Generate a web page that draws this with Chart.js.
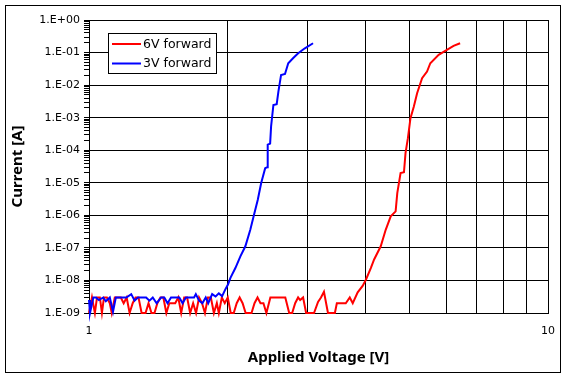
<!DOCTYPE html>
<html>
<head>
<meta charset="utf-8">
<script src="https://cdn.jsdelivr.net/npm/chart.js@4.4.1/dist/chart.umd.min.js"></script>
<style>
  html, body { margin: 0; padding: 0; background: #fff; }
  #wrap { width: 567px; height: 379px; }
</style>
</head>
<body>
<div id="wrap"><canvas id="ivChart" width="567" height="379"></canvas></div>
<script>
// Axis ticks
const yDecades = [1e-9, 1e-8, 1e-7, 1e-6, 1e-5, 1e-4, 1e-3, 1e-2, 1e-1, 1e0];
const yTickLabels = ['1.E-09', '1.E-08', '1.E-07', '1.E-06', '1.E-05', '1.E-04', '1.E-03', '1.E-02', '1.E-01', '1.E+00'];
const minorSteps = [2, 3, 4, 5, 6, 7, 8, 9];
const xGridValues = [1, 2, 3, 4, 5, 6, 7, 8, 9, 10];
const xLabelValues = [1, 10];
const xTickLabels = ['1', '10'];

// 6V forward sweep
const redV = [
    1.000, 1.015, 1.030, 1.041, 1.056, 1.067, 1.078, 1.094, 1.110, 1.121,
    1.138, 1.155, 1.173, 1.190, 1.208, 1.226, 1.245, 1.263, 1.282, 1.302,
    1.328, 1.348, 1.368, 1.389, 1.409, 1.431, 1.452, 1.474, 1.496, 1.519,
    1.541, 1.565, 1.588, 1.612, 1.636, 1.661, 1.686, 1.711, 1.737, 1.763,
    1.789, 1.816, 1.843, 1.871, 1.899, 1.918, 1.947, 1.976, 2.006, 2.036,
    2.067, 2.098, 2.129, 2.161, 2.194, 2.227, 2.260, 2.294, 2.329, 2.364,
    2.399, 2.435, 2.484, 2.534, 2.585, 2.637, 2.677, 2.730, 2.771, 2.813,
    2.855, 2.884, 2.927, 2.972, 3.031, 3.092, 3.155, 3.202, 3.250, 3.316,
    3.382, 3.433, 3.467, 3.555, 3.626, 3.699, 3.755, 3.849, 3.946, 4.011,
    4.111, 4.180, 4.321, 4.430, 4.543, 4.656, 4.695, 4.773, 4.855, 4.893,
    4.952, 5.016, 5.102, 5.186, 5.317, 5.451, 5.541, 5.778, 6.022, 6.226,
    6.434
];
const redI = [
    1e-9, 3e-9, 1e-9, 3e-9, 3e-9, 1e-9, 3e-9, 3e-9, 2e-9, 1e-9,
    3e-9, 3e-9, 3e-9, 2e-9, 3e-9, 1e-9, 2e-9, 3e-9, 3e-9, 1e-9,
    1e-9, 2e-9, 1e-9, 1e-9, 2e-9, 3e-9, 3e-9, 1e-9, 2e-9, 2e-9,
    2e-9, 3e-9, 1e-9, 3e-9, 3e-9, 1e-9, 2e-9, 1e-9, 3e-9, 2e-9,
    1e-9, 3e-9, 3e-9, 1e-9, 2e-9, 1e-9, 3e-9, 2e-9, 3e-9, 1e-9,
    1e-9, 2e-9, 3e-9, 2e-9, 1e-9, 1e-9, 1e-9, 2e-9, 3e-9, 2e-9,
    2e-9, 1e-9, 3e-9, 3e-9, 3e-9, 3e-9, 3e-9, 1e-9, 1e-9, 2e-9,
    3e-9, 2.5e-9, 3e-9, 1e-9, 1e-9, 1e-9, 2.2e-9, 3e-9, 4.5e-9, 1e-9,
    1e-9, 1e-9, 2e-9, 2e-9, 2e-9, 3e-9, 2e-9, 4.3e-9, 6.8e-9, 1.05e-8,
    2.4e-8, 4.4e-8, 1.12e-7, 3.6e-7, 9.3e-7, 1.32e-6, 4.8e-6, 2.0e-5, 2.1e-5, 8.1e-5,
    2.35e-4, 9.6e-4, 2.2e-3, 5.6e-3, 1.63e-2, 2.6e-2, 4.7e-2, 8.5e-2, 1.2e-1, 1.6e-1,
    1.93e-1
];

// 3V forward sweep
const blueV = [
    1.000, 1.005, 1.022, 1.035, 1.051, 1.074, 1.088, 1.110, 1.128, 1.144,
    1.172, 1.206, 1.236, 1.257, 1.278, 1.302, 1.332, 1.354, 1.377, 1.404,
    1.436, 1.459, 1.483, 1.509, 1.541, 1.573, 1.599, 1.626, 1.661, 1.694,
    1.709, 1.737, 1.766, 1.796, 1.819, 1.855, 1.887, 1.918, 1.950, 1.984,
    2.008, 2.033, 2.084, 2.137, 2.191, 2.246, 2.284, 2.332, 2.372, 2.420,
    2.444, 2.451, 2.481, 2.493, 2.522, 2.564, 2.586, 2.621, 2.673, 2.717,
    2.786, 2.856, 2.953, 3.077
];
const blueI = [
    2.5e-9, 1.0e-9, 3e-9, 3e-9, 2.5e-9, 3e-9, 2.3e-9, 3e-9, 1.1e-9, 3e-9,
    3e-9, 3e-9, 3.8e-9, 2.4e-9, 3e-9, 3e-9, 3e-9, 2.4e-9, 3e-9, 2e-9,
    3e-9, 3e-9, 2e-9, 3e-9, 3e-9, 3e-9, 2e-9, 3e-9, 3e-9, 3e-9,
    3.8e-9, 2.4e-9, 2e-9, 3e-9, 2e-9, 3.8e-9, 3.2e-9, 4e-9, 3.3e-9, 5.5e-9,
    7.5e-9, 1.2e-8, 2.4e-8, 5.5e-8, 1.12e-7, 3.6e-7, 9.3e-7, 3.0e-6, 9.8e-6, 2.8e-5,
    3.0e-5, 1.48e-4, 1.6e-4, 5.4e-4, 2.45e-3, 2.6e-3, 6.3e-3, 2.05e-2, 2.2e-2, 4.7e-2,
    6.8e-2, 9.5e-2, 1.35e-1, 1.93e-1
];

const toPoints = (xs, ys) => xs.map((x, i) => ({ x, y: ys[i] }));

// Boxed legend inside the plot, like the spreadsheet original
const boxLegend = {
    id: 'boxLegend',
    afterDraw(chart) {
        const { ctx } = chart;
        ctx.save();
        ctx.fillStyle = '#fff';
        ctx.fillRect(108.5, 33.5, 108, 40);
        ctx.strokeStyle = '#000';
        ctx.lineWidth = 1;
        ctx.strokeRect(108.5, 33.5, 108, 40);
        ctx.font = '12.5px "DejaVu Sans"';
        ctx.textBaseline = 'middle';
        chart.data.datasets.forEach((ds, i) => {
            const y = 44 + i * 19.5;
            ctx.strokeStyle = ds.borderColor;
            ctx.lineWidth = 2;
            ctx.beginPath();
            ctx.moveTo(112, y);
            ctx.lineTo(141, y);
            ctx.stroke();
            ctx.fillStyle = '#000';
            ctx.fillText(ds.label, 143, y + 0.5);
        });
        ctx.restore();
    }
};

// Outer frame around the whole chart
const outerFrame = {
    id: 'outerFrame',
    afterDraw(chart) {
        const { ctx } = chart;
        ctx.save();
        ctx.strokeStyle = '#000';
        ctx.lineWidth = 1;
        ctx.strokeRect(5.5, 5.5, 555, 367);
        ctx.restore();
    }
};

new Chart(document.getElementById('ivChart'), {
    type: 'line',
    plugins: [boxLegend, outerFrame],
    data: {
        datasets: [{
            label: '6V forward',
            data: toPoints(redV, redI),
            borderColor: '#ff0000',
            borderWidth: 2,
            pointRadius: 0,
            tension: 0,
            order: 1,
            clip: false
        }, {
            label: '3V forward',
            data: toPoints(blueV, blueI),
            borderColor: '#0000ff',
            borderWidth: 2,
            pointRadius: 0,
            tension: 0,
            order: 0,
            clip: false
        }]
    },
    options: {
        responsive: false,
        animation: false,
        devicePixelRatio: 1,
        layout: { padding: { top: 20, right: 16, bottom: 0, left: 0 } },
        plugins: {
            legend: { display: false },
            tooltip: { enabled: false }
        },
        scales: {
            x: {
                type: 'logarithmic',
                min: 1,
                max: 10,
                afterBuildTicks(scale) {
                    scale.ticks = xGridValues.map(v => ({ value: v, major: xLabelValues.includes(v) }));
                },
                afterFit(scale) { scale.height = 66; },
                grid: { color: '#000', lineWidth: 1, drawTicks: false },
                border: { color: '#000', width: 1 },
                ticks: {
                    autoSkip: false,
                    maxRotation: 0,
                    padding: 12,
                    color: '#000',
                    font: { family: 'DejaVu Sans', size: 11 },
                    callback: (v) => {
                        const k = xLabelValues.indexOf(v);
                        return k >= 0 ? xTickLabels[k] : '';
                    }
                },
                title: {
                    display: true,
                    text: 'Applied Voltage [V]',
                    color: '#000',
                    font: { family: 'Noto Sans', size: 15, weight: 'bold' },
                    padding: { top: 0, bottom: 12 }
                }
            },
            y: {
                type: 'logarithmic',
                min: 1e-9,
                max: 1,
                afterBuildTicks(scale) {
                    const ticks = [];
                    yDecades.forEach((d, k) => {
                        ticks.push({ value: d, major: true });
                        if (k < yDecades.length - 1) {
                            minorSteps.forEach(m => ticks.push({ value: d * m, major: false }));
                        }
                    });
                    scale.ticks = ticks;
                },
                afterFit(scale) { scale.width = 89; },
                grid: {
                    color: (c) => (c.tick && c.tick.major ? '#000' : 'rgba(0,0,0,0)'),
                    tickColor: '#000',
                    tickLength: 5,
                    lineWidth: 1
                },
                border: { color: '#000', width: 1 },
                ticks: {
                    autoSkip: false,
                    padding: 4,
                    color: '#000',
                    font: { family: 'DejaVu Sans', size: 11 },
                    callback: (v) => {
                        const k = yDecades.indexOf(v);
                        return k >= 0 ? yTickLabels[k] : '';
                    }
                },
                title: {
                    display: true,
                    text: 'Current [A]',
                    color: '#000',
                    font: { family: 'Noto Sans', size: 15, weight: 'bold' },
                    padding: { top: 9, bottom: 0 }
                }
            }
        }
    }
});
</script>
</body>
</html>
